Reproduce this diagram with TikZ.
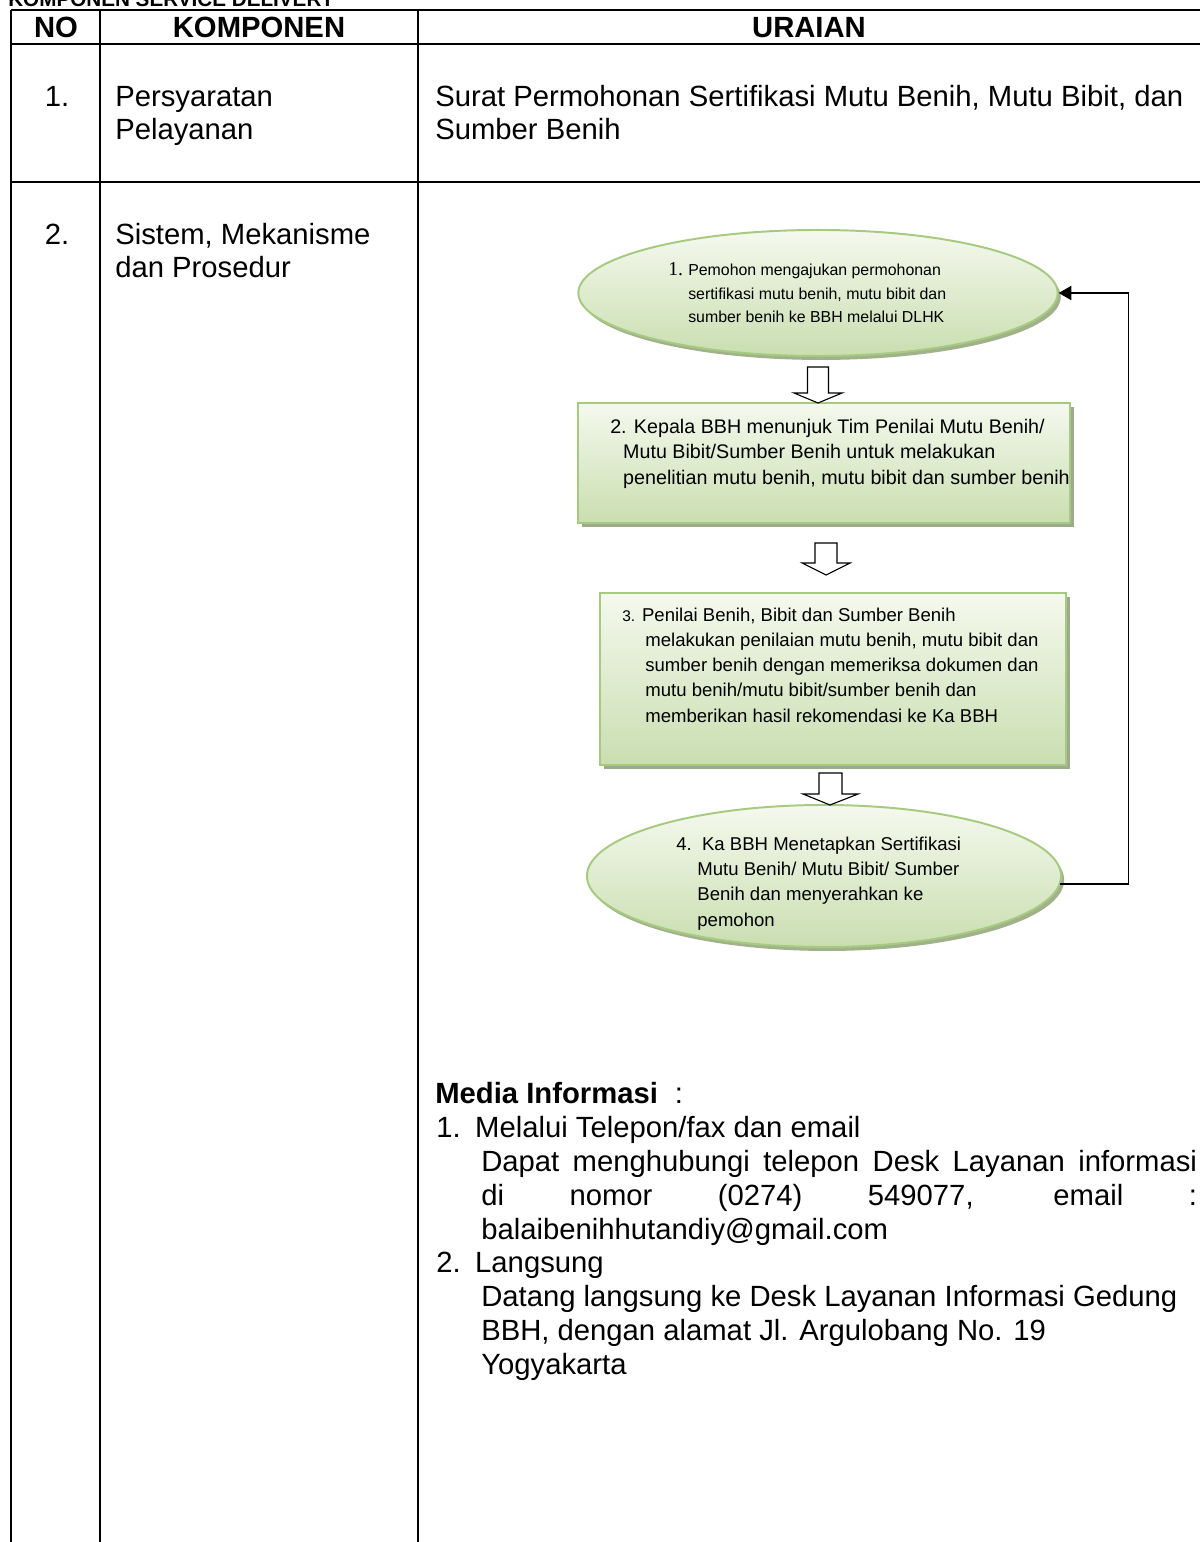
\documentclass[tikz,border=0pt]{standalone}
\usepackage{fontspec}
\setmainfont{Liberation Sans}
\newfontfamily\numfont{Liberation Serif}
\usetikzlibrary{shapes.geometric,shadows,arrows.meta}

\definecolor{stepline}{HTML}{A6CB80}
\definecolor{steptop}{HTML}{F5F9EE}
\definecolor{stepbot}{HTML}{C9DEB0}
\definecolor{stepshade}{HTML}{9EAA8E}

\tikzset{
  tline/.style={line width=2.1pt},
  body/.style={font=\fontsize{20.8}{23.5}\selectfont, inner sep=0pt, align=left},
  head/.style={font=\fontsize{20.8}{23.5}\selectfont\bfseries, inner sep=0pt, anchor=base},
  stepbox/.style={rectangle, draw=stepline, line width=1.4pt, top color=steptop, bottom color=stepbot,
    drop shadow={shadow xshift=2.8pt, shadow yshift=-2.8pt, fill=stepshade, opacity=1}},
  stepoval/.style={ellipse, draw=stepline, line width=1.4pt, inner sep=0pt, top color=steptop, bottom color=stepbot,
    drop shadow={shadow xshift=2.2pt, shadow yshift=-2.8pt, fill=stepshade!80!stepline, opacity=1}},
  steptext/.style={inner sep=0pt, align=left, anchor=base west},
  blockarr/.style={draw=black, fill=white, line width=0.8pt},
  feedback/.style={line width=1.2pt, -{Triangle[length=9pt,width=10pt]}}
}

\begin{document}
\begin{tikzpicture}[x=0.025cm,y=-0.025cm]
\useasboundingbox (0,0) rectangle (1200,1542);

% table
\draw[tline] (11,10) -- (1210,10);
\draw[tline] (11,44) -- (1210,44);
\draw[tline] (11,182) -- (1210,182);
\draw[tline] (11,10) -- (11,1550);
\draw[tline] (100,10) -- (100,1550);
\draw[tline] (418,10) -- (418,1550);

\node[font=\fontsize{14.7}{16}\selectfont\bfseries, inner sep=0pt, anchor=base west] (title) at (8,7) {KOMPONEN SERVICE DELIVERY};

\node[head] (hno) at (56,38) {NO};
\node[head] (hkomp) at (259,38) {KOMPONEN};
\node[head] (hura) at (809,38) {URAIAN};

% multi-line nodes: base = last line
\node[body, anchor=base] (r1no) at (57,107) {1.};
\node[body, anchor=base west] (r1komp) at (115,140) {Persyaratan\\Pelayanan};
\node[body, anchor=base west] (r1ura) at (435,140) {Surat Permohonan Sertifikasi Mutu Benih, Mutu Bibit, dan\\Sumber Benih};

\node[body, anchor=base] (r2no) at (57,245) {2.};
\node[body, anchor=base west] (r2komp) at (115,278) {Sistem, Mekanisme\\dan Prosedur};

% flow
\node[stepoval, minimum width=11.98cm, minimum height=3.15cm] (s1) at (818,293) {};
\node[stepbox, minimum width=12.3cm, minimum height=3cm] (s2) at (824,463) {};
\node[stepbox, minimum width=11.65cm, minimum height=4.3cm] (s3) at (833,679) {};
\node[stepoval, minimum width=11.85cm, minimum height=3.55cm] (s4) at (824,876) {};

\draw[blockarr] (807.5,367) -- (828.5,367) -- (828.5,393) -- (842,393) -- (818,403) -- (794,393) -- (807.5,393) -- cycle;
\draw[blockarr] (815,543) -- (837,543) -- (837,563) -- (850,563) -- (826,575) -- (802,563) -- (815,563) -- cycle;
\draw[blockarr] (819,773) -- (842,773) -- (842,794) -- (858,794) -- (830,805) -- (803,794) -- (819,794) -- cycle;

\draw[feedback] (s4.-2) -- ++(68,0) |- (s1.east);

\node[steptext, font=\fontsize{11.3}{17}\selectfont] (t1) at (668,323)
  {\makebox[14.2pt][l]{\numfont\fontsize{14}{14}\selectfont 1.}Pemohon mengajukan permohonan\\
   \hspace*{14.2pt}sertifikasi mutu benih, mutu bibit dan\\
   \hspace*{14.2pt}sumber benih ke BBH melalui DLHK};
\node[steptext, font=\fontsize{14}{17.8}\selectfont] (t2) at (610,484)
  {2. Kepala BBH menunjuk Tim Penilai Mutu Benih/\\
   \hspace*{9.2pt}Mutu Bibit/Sumber Benih untuk melakukan\\
   \hspace*{9.2pt}penelitian mutu benih, mutu bibit dan sumber benih};
\node[steptext, font=\fontsize{13.2}{17.8}\selectfont] (t3) at (622,722)
  {{\fontsize{11}{11}\selectfont 3.} Penilai Benih, Bibit dan Sumber Benih\\
   \hspace*{16.4pt}melakukan penilaian mutu benih, mutu bibit dan\\
   \hspace*{16.4pt}sumber benih dengan memeriksa dokumen dan\\
   \hspace*{16.4pt}mutu benih/mutu bibit/sumber benih dan\\
   \hspace*{16.4pt}memberikan hasil rekomendasi ke Ka BBH};
\node[steptext, font=\fontsize{13.2}{17.8}\selectfont] (t4) at (676,926)
  {4.\ \ Ka BBH Menetapkan Sertifikasi\\
   \hspace*{15pt}Mutu Benih/ Mutu Bibit/ Sumber\\
   \hspace*{15pt}Benih dan menyerahkan ke\\
   \hspace*{15pt}pemohon};

% media informasi
\node[body, anchor=base west] (media) at (435,1103) {\textbf{Media Informasi}\hspace{12pt}:};
\node[body, anchor=base west, font=\fontsize{20.8}{24}\selectfont] (info) at (436,1374)
  {\makebox[27.7pt][l]{1.}Melalui Telepon/fax dan email\\
   \hspace*{32pt}\makebox[509pt][s]{Dapat menghubungi telepon Desk Layanan informasi}\\
   \hspace*{32pt}\makebox[509pt][s]{di nomor (0274) 549077, email :}\\
   \hspace*{32pt}balaibenihhutandiy@gmail.com\\
   \makebox[27.7pt][l]{2.}Langsung\\
   \hspace*{32pt}Datang langsung ke Desk Layanan Informasi Gedung\\
   \hspace*{32pt}BBH, dengan alamat Jl. Argulobang No. 19\\
   \hspace*{32pt}Yogyakarta};

\end{tikzpicture}
\end{document}
